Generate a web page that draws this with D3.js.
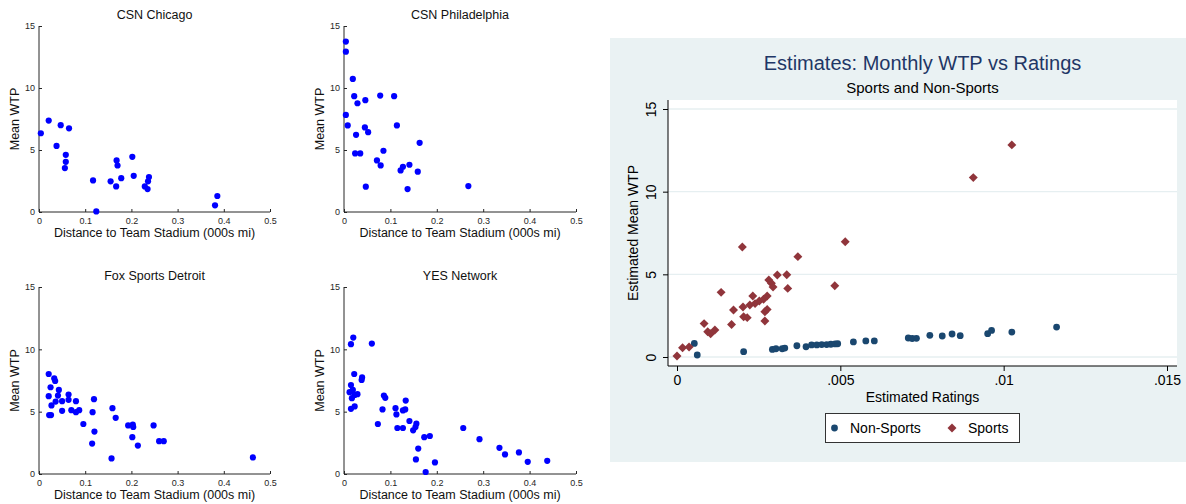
<!DOCTYPE html>
<html>
<head>
<meta charset="utf-8">
<script src="https://cdn.jsdelivr.net/npm/d3@7"></script>
<style>
  body { margin: 0; background: #fff; }
  svg { font-family: "Liberation Sans", Arial, sans-serif; display: block; }
</style>
</head>
<body>
<svg id="chart" width="1186" height="504"></svg>
<script>
// distance (000s mi), mean WTP
var chicago = [
  [0.004, 6.35], [0.021, 7.37], [0.047, 7.0], [0.065, 6.75], [0.038, 5.33],
  [0.058, 4.61], [0.058, 4.05], [0.056, 3.54], [0.117, 2.55], [0.124, 0.05],
  [0.155, 2.47], [0.167, 2.06], [0.168, 4.16], [0.170, 3.75], [0.178, 2.73],
  [0.202, 4.45], [0.205, 2.92], [0.229, 2.06], [0.236, 2.47], [0.238, 2.82],
  [0.235, 1.85], [0.381, 0.54], [0.386, 1.29]
];
var philadelphia = [
  [0.004, 13.74], [0.004, 12.93], [0.019, 10.73], [0.022, 9.34], [0.029, 8.77],
  [0.046, 9.02], [0.004, 7.83], [0.008, 6.98], [0.026, 6.22], [0.045, 6.82],
  [0.052, 6.44], [0.024, 4.72], [0.035, 4.72], [0.047, 2.04], [0.078, 9.39],
  [0.108, 9.34], [0.114, 6.98], [0.163, 5.58], [0.085, 4.94], [0.071, 4.16],
  [0.079, 3.76], [0.122, 3.35], [0.127, 3.65], [0.141, 3.81], [0.159, 3.25],
  [0.137, 1.85], [0.268, 2.09]
];
var detroit = [
  [0.021, 8.02], [0.033, 7.67], [0.035, 7.46], [0.025, 6.96], [0.043, 6.74],
  [0.021, 6.24], [0.041, 6.29], [0.064, 6.37], [0.064, 5.95], [0.036, 5.81],
  [0.050, 5.84], [0.080, 5.84], [0.027, 5.50], [0.022, 4.73], [0.026, 4.73],
  [0.050, 5.07], [0.070, 5.12], [0.080, 4.96], [0.087, 5.12], [0.096, 4.01],
  [0.119, 6.00], [0.116, 4.96], [0.120, 3.40], [0.115, 2.44], [0.159, 5.28],
  [0.166, 4.51], [0.157, 1.25], [0.193, 3.90], [0.203, 3.96], [0.204, 3.77],
  [0.202, 2.95], [0.214, 2.28], [0.248, 3.90], [0.260, 2.63], [0.270, 2.63],
  [0.463, 1.33]
];
var yes = [
  [0.020, 10.94], [0.015, 10.41], [0.060, 10.46], [0.022, 8.02], [0.039, 7.75],
  [0.038, 7.54], [0.015, 7.14], [0.012, 6.56], [0.019, 6.74], [0.017, 6.08],
  [0.029, 6.40], [0.023, 6.34], [0.015, 5.23], [0.023, 5.42], [0.086, 6.29],
  [0.089, 6.11], [0.083, 5.18], [0.073, 4.01], [0.111, 5.28], [0.113, 4.78],
  [0.127, 5.10], [0.132, 5.18], [0.133, 5.89], [0.115, 3.69], [0.127, 3.69],
  [0.141, 4.25], [0.156, 4.04], [0.149, 3.50], [0.154, 3.77], [0.173, 2.95],
  [0.185, 3.05], [0.160, 2.04], [0.155, 1.17], [0.196, 0.93], [0.176, 0.16],
  [0.257, 3.69], [0.292, 2.79], [0.335, 2.10], [0.347, 1.57], [0.377, 1.73],
  [0.396, 0.98], [0.438, 1.06]
];
var panelTitles = ["CSN Chicago", "CSN Philadelphia", "Fox Sports Detroit", "YES Network"];
var distTicks = [0, 0.1, 0.2, 0.3, 0.4, 0.5];
var wtpTicks = [0, 5, 10, 15];

// estimated ratings, estimated mean WTP
var nonSports = [
  [0.00053, 0.82], [0.00062, 0.12], [0.00204, 0.32], [0.00292, 0.46], [0.00303, 0.50],
  [0.00322, 0.50], [0.00330, 0.54], [0.00367, 0.68], [0.00395, 0.62], [0.00412, 0.73],
  [0.00428, 0.73], [0.00443, 0.75], [0.00458, 0.75], [0.00471, 0.77], [0.00484, 0.79],
  [0.00492, 0.80], [0.00540, 0.91], [0.00578, 0.97], [0.00604, 0.97], [0.00708, 1.15],
  [0.00720, 1.12], [0.00733, 1.13], [0.00774, 1.31], [0.00812, 1.27], [0.00842, 1.39],
  [0.00867, 1.29], [0.00951, 1.41], [0.00963, 1.61], [0.01025, 1.51], [0.01162, 1.81]
];
var sports = [
  [0.00000, 0.06], [0.00017, 0.56], [0.00037, 0.60], [0.00083, 2.02], [0.00094, 1.53],
  [0.00103, 1.41], [0.00116, 1.63], [0.00135, 3.91], [0.00167, 1.96], [0.00173, 2.84],
  [0.00200, 6.65], [0.00202, 3.02], [0.00204, 2.44], [0.00215, 2.38], [0.00223, 3.15],
  [0.00232, 3.69], [0.00239, 3.23], [0.00252, 3.39], [0.00265, 3.49], [0.00276, 3.69],
  [0.00269, 2.74], [0.00276, 2.88], [0.00269, 2.18], [0.00281, 4.66], [0.00289, 4.46],
  [0.00294, 4.23], [0.00307, 4.96], [0.00336, 4.98], [0.00339, 4.15], [0.00370, 6.07],
  [0.00483, 4.31], [0.00515, 6.97], [0.00907, 10.85], [0.01025, 12.83]
];
var ratingTicks = [0, 0.005, 0.01, 0.015];
var ratingTickLabels = ["0", ".005", ".01", ".015"];
var estWtpTicks = [0, 5, 10, 15];

var svg = d3.select("#chart");

// 四个小图
var panels = [
  { data: chicago, x0: 39, x1: 270, y0: 212, y1: 26 },
  { data: philadelphia, x0: 344, x1: 576, y0: 212, y1: 26 },
  { data: detroit, x0: 39, x1: 270, y0: 474, y1: 287 },
  { data: yes, x0: 344, x1: 576, y0: 474, y1: 287 }
];

panels.forEach(function(p, i) {
  var x = d3.scaleLinear().domain([0, 0.5]).range([p.x0, p.x1]);
  var y = d3.scaleLinear().domain([0, 15]).range([p.y0, p.y1]);
  var g = svg.append("g");

  var xAxis = g.append("g")
    .attr("transform", "translate(0," + p.y0 + ")")
    .call(d3.axisBottom(x).tickValues(distTicks).tickSize(-3).tickPadding(6)
      .tickFormat(function(d) { return d === 0 ? "0" : d3.format(".1f")(d); }));
  var yAxis = g.append("g")
    .attr("transform", "translate(" + p.x0 + ",0)")
    .call(d3.axisLeft(y).tickValues(wtpTicks).tickSize(-3).tickPadding(4));
  [xAxis, yAxis].forEach(function(a) {
    a.select(".domain").attr("stroke", "#262626");
    a.selectAll(".tick line").attr("stroke", "#262626");
    a.selectAll("text").attr("fill", "#262626").style("font-size", "9px");
  });
  xAxis.select(".domain").attr("d", "M" + p.x0 + ",0H" + p.x1);
  yAxis.select(".domain").attr("d", "M0," + p.y0 + "V" + p.y1);

  g.selectAll("circle")
    .data(p.data)
    .enter()
    .append("circle")
      .attr("cx", function(d) { return x(d[0]); })
      .attr("cy", function(d) { return y(d[1]); })
      .attr("r", 3.1)
      .attr("fill", "#0000ff");

  g.append("text")
    .attr("x", (p.x0 + p.x1) / 2)
    .attr("y", p.y1 - 7)
    .attr("text-anchor", "middle")
    .style("font-size", "12.5px")
    .attr("fill", "#111")
    .text(panelTitles[i]);
  g.append("text")
    .attr("x", (p.x0 + p.x1) / 2)
    .attr("y", p.y0 + 25)
    .attr("text-anchor", "middle")
    .style("font-size", "12.5px")
    .attr("fill", "#111")
    .text("Distance to Team Stadium (000s mi)");
  g.append("text")
    .attr("transform", "translate(" + (p.x0 - 20) + "," + ((p.y0 + p.y1) / 2) + ") rotate(-90)")
    .attr("text-anchor", "middle")
    .style("font-size", "12.5px")
    .attr("fill", "#111")
    .text("Mean WTP");
});

// 右侧估计图
var box = { left: 610, top: 38, right: 1186, bottom: 462 };
var plot = { left: 668, top: 100, right: 1177, bottom: 366 };

svg.append("rect")
  .attr("x", box.left).attr("y", box.top)
  .attr("width", box.right - box.left).attr("height", box.bottom - box.top)
  .attr("fill", "#eaf2f3");
svg.append("rect")
  .attr("x", plot.left).attr("y", plot.top)
  .attr("width", plot.right - plot.left).attr("height", plot.bottom - plot.top)
  .attr("fill", "#fff");

var rx = d3.scaleLinear().domain([0, 0.015]).range([677, 1167]);
var ry = d3.scaleLinear().domain([0, 15]).range([357, 109]);

svg.append("g")
  .selectAll("line")
  .data(estWtpTicks)
  .enter()
  .append("line")
    .attr("x1", plot.left).attr("x2", plot.right)
    .attr("y1", function(d) { return ry(d); })
    .attr("y2", function(d) { return ry(d); })
    .attr("stroke", "#e6eff1")
    .attr("stroke-width", 1.4);

var rxAxis = svg.append("g")
  .attr("transform", "translate(0," + plot.bottom + ")")
  .call(d3.axisBottom(rx).tickValues(ratingTicks).tickSize(5).tickPadding(4)
    .tickFormat(function(d, i) { return ratingTickLabels[i]; }));
rxAxis.select(".domain").attr("d", "M" + plot.left + ",0H" + plot.right);
var ryAxis = svg.append("g")
  .attr("transform", "translate(" + plot.left + ",0)")
  .call(d3.axisLeft(ry).tickValues(estWtpTicks).tickSize(5).tickPadding(4));
ryAxis.select(".domain").attr("d", "M0," + plot.bottom + "V" + plot.top);
ryAxis.selectAll(".tick text")
  .attr("x", -12).attr("dy", 0)
  .attr("transform", "rotate(-90,-12,0)")
  .attr("text-anchor", "middle");
[rxAxis, ryAxis].forEach(function(a) {
  a.select(".domain").attr("stroke", "#000");
  a.selectAll(".tick line").attr("stroke", "#000");
  a.selectAll("text").attr("fill", "#000").style("font-size", "14px");
});

var navy = "#1a476f", maroon = "#90353b";
var diamond = d3.symbol().type(d3.symbolSquare).size(40);

svg.append("g")
  .selectAll("circle")
  .data(nonSports)
  .enter()
  .append("circle")
    .attr("cx", function(d) { return rx(d[0]); })
    .attr("cy", function(d) { return ry(d[1]); })
    .attr("r", 3.4)
    .attr("fill", navy);
svg.append("g")
  .selectAll("path")
  .data(sports)
  .enter()
  .append("path")
    .attr("d", diamond)
    .attr("transform", function(d) { return "translate(" + rx(d[0]) + "," + ry(d[1]) + ") rotate(45)"; })
    .attr("fill", maroon);

var cx = (plot.left + plot.right) / 2;
svg.append("text")
  .attr("x", cx).attr("y", 70)
  .attr("text-anchor", "middle")
  .style("font-size", "20px")
  .attr("fill", "#1f3766")
  .text("Estimates: Monthly WTP vs Ratings");
svg.append("text")
  .attr("x", cx).attr("y", 93)
  .attr("text-anchor", "middle")
  .style("font-size", "15px")
  .attr("fill", "#000")
  .text("Sports and Non-Sports");
svg.append("text")
  .attr("x", cx).attr("y", 402)
  .attr("text-anchor", "middle")
  .style("font-size", "14px")
  .attr("fill", "#000")
  .text("Estimated Ratings");
svg.append("text")
  .attr("transform", "translate(638," + ((ry(0) + ry(15)) / 2) + ") rotate(-90)")
  .attr("text-anchor", "middle")
  .style("font-size", "14px")
  .attr("fill", "#000")
  .text("Estimated Mean WTP");

// 图例
var legend = svg.append("g");
legend.append("rect")
  .attr("x", 825.5).attr("y", 413.5).attr("width", 194).attr("height", 29)
  .attr("fill", "#fff").attr("stroke", "#333");
legend.append("circle").attr("cx", 834.5).attr("cy", 428).attr("r", 3.4).attr("fill", navy);
legend.append("text").attr("x", 850).attr("y", 433).style("font-size", "14px").text("Non-Sports");
legend.append("path").attr("d", diamond).attr("transform", "translate(952,428) rotate(45)").attr("fill", maroon);
legend.append("text").attr("x", 968).attr("y", 433).style("font-size", "14px").text("Sports");
</script>
</body>
</html>
